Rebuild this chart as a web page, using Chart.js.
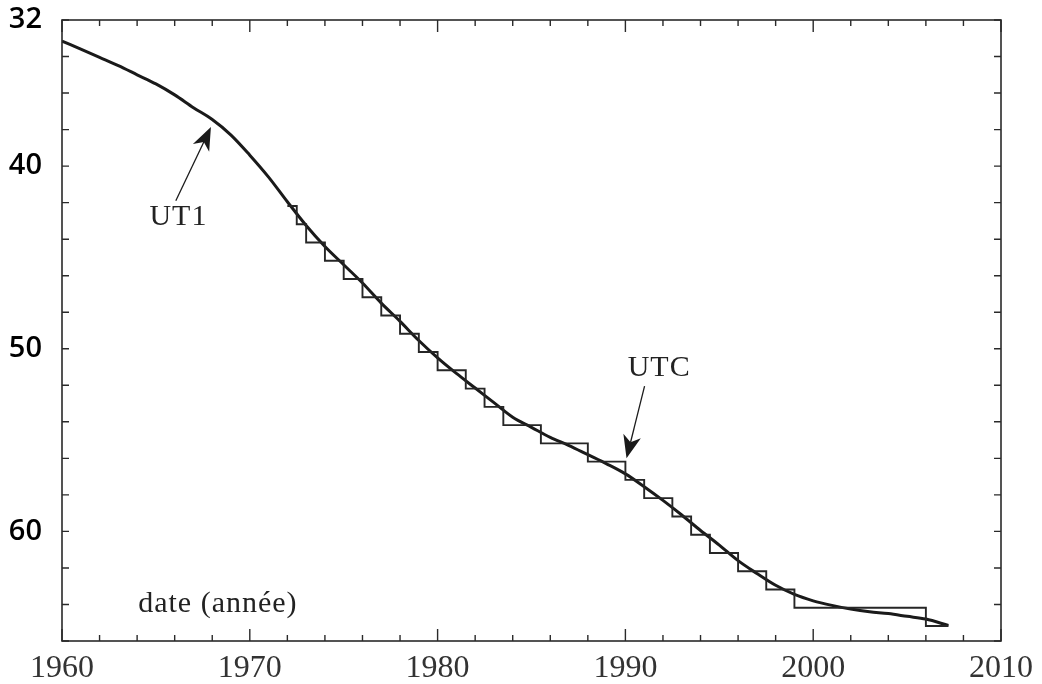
<!DOCTYPE html>
<html>
<head>
<meta charset="utf-8">
<script src="https://cdn.jsdelivr.net/npm/chart.js@4"></script>
<style>
  html, body { margin: 0; padding: 0; background: #ffffff; overflow: hidden; }
  #chart { display: block; }
</style>
</head>
<body>
<canvas id="chart" width="1042" height="684"></canvas>
<script>
// UT1 curve (TT - UT1, seconds)
const ut1Years = [1960, 1961, 1962, 1963, 1964, 1965, 1966, 1967, 1968, 1969, 1970, 1971, 1972, 1973, 1974, 1975, 1976, 1977, 1978, 1979, 1980, 1981, 1982, 1983, 1984, 1985, 1986, 1987, 1988, 1989, 1990, 1991, 1992, 1993, 1994, 1995, 1996, 1997, 1998, 1999, 2000, 2001, 2002, 2003, 2004, 2005, 2006, 2007.2]
const ut1Values = [33.15, 33.6, 34.05, 34.5, 35.0, 35.5, 36.1, 36.8, 37.45, 38.3, 39.4, 40.6, 41.95, 43.25, 44.4, 45.4, 46.4, 47.5, 48.5, 49.55, 50.5, 51.35, 52.15, 52.95, 53.75, 54.3, 54.85, 55.3, 55.8, 56.3, 56.85, 57.55, 58.3, 59.1, 59.95, 60.75, 61.6, 62.3, 62.95, 63.45, 63.8, 64.05, 64.25, 64.4, 64.5, 64.65, 64.8, 65.15]

// UTC staircase: date of each step and level after it
const utcYears = [1972.0, 1972.5, 1973.0, 1974.0, 1975.0, 1976.0, 1977.0, 1978.0, 1979.0, 1980.0, 1981.5, 1982.5, 1983.5, 1985.5, 1988.0, 1990.0, 1991.0, 1992.5, 1993.5, 1994.5, 1996.0, 1997.5, 1999.0, 2006.0, 2007.2]
const utcValues = [42.18, 43.18, 44.18, 45.18, 46.18, 47.18, 48.18, 49.18, 50.18, 51.18, 52.18, 53.18, 54.18, 55.18, 56.18, 57.18, 58.18, 59.18, 60.18, 61.18, 62.18, 63.18, 64.18, 65.18, 65.18]

const yLabelValues = [32, 40, 50, 60]
const xLabelValues = [1960, 1970, 1980, 1990, 2000, 2010]

const noteTexts = ['UT1', 'UTC', 'date (année)']
const noteX = [1966.2, 1991.8, 1968.3]
const noteY = [42.8, 51.05, 64.0]

const arrowTailX = [1966.06, 1991.02]
const arrowTailY = [41.9, 52.05]
const arrowTipX = [1967.93, 1990.06]
const arrowTipY = [37.86, 56.0]

const ink = '#1a1a1a'

const framePlugin = {
  id: 'frame',
  afterDatasetsDraw(chart) {
    const { ctx, chartArea: area, scales } = chart
    const xs = scales.x
    const ys = scales.y
    ctx.save()
    ctx.strokeStyle = '#2a2a2a'
    ctx.lineWidth = 1.6
    ctx.strokeRect(area.left, area.top, area.right - area.left, area.bottom - area.top)

    ctx.lineWidth = 1.4
    ctx.beginPath()
    xs.ticks.forEach((tick) => {
      const px = xs.getPixelForValue(tick.value)
      const len = tick.value % 10 === 0 ? 12 : 6
      ctx.moveTo(px, area.bottom)
      ctx.lineTo(px, area.bottom - len)
      ctx.moveTo(px, area.top)
      ctx.lineTo(px, area.top + len)
    })
    ys.ticks.forEach((tick) => {
      const py = ys.getPixelForValue(tick.value)
      ctx.moveTo(area.left, py)
      ctx.lineTo(area.left + 7, py)
      ctx.moveTo(area.right, py)
      ctx.lineTo(area.right - 7, py)
    })
    ctx.stroke()

    // arrows
    ctx.fillStyle = ink
    ctx.strokeStyle = ink
    ctx.lineWidth = 1.3
    arrowTailX.forEach((tx, i) => {
      const x0 = xs.getPixelForValue(tx)
      const y0 = ys.getPixelForValue(arrowTailY[i])
      const x1 = xs.getPixelForValue(arrowTipX[i])
      const y1 = ys.getPixelForValue(arrowTipY[i])
      const ang = Math.atan2(y1 - y0, x1 - x0)
      const headLen = 23
      const headHalf = 9
      const bx = x1 - Math.cos(ang) * headLen
      const by = y1 - Math.sin(ang) * headLen
      const nx = x1 - Math.cos(ang) * headLen * 0.72
      const ny = y1 - Math.sin(ang) * headLen * 0.72
      ctx.beginPath()
      ctx.moveTo(x0, y0)
      ctx.lineTo(nx, ny)
      ctx.stroke()
      ctx.beginPath()
      ctx.moveTo(x1, y1)
      ctx.lineTo(bx - Math.sin(ang) * headHalf, by + Math.cos(ang) * headHalf)
      ctx.lineTo(nx, ny)
      ctx.lineTo(bx + Math.sin(ang) * headHalf, by - Math.cos(ang) * headHalf)
      ctx.closePath()
      ctx.fill()
    })

    ctx.fillStyle = '#222222'
    ctx.font = '30px "Liberation Serif", serif'
    ctx.textAlign = 'center'
    ctx.textBaseline = 'middle'
    if ('letterSpacing' in ctx) ctx.letterSpacing = '1px'
    noteTexts.forEach((text, i) => {
      ctx.fillText(text, xs.getPixelForValue(noteX[i]), ys.getPixelForValue(noteY[i]))
    })
    ctx.restore()
  },
}

const canvas = document.getElementById('chart')
const chart = new Chart(canvas.getContext('2d'), {
  type: 'line',
  data: {
    datasets: [
      {
        label: 'UTC',
        data: utcYears.map((year, i) => ({ x: year, y: utcValues[i] })),
        borderColor: '#262626',
        borderWidth: 1.9,
        stepped: 'before',
        pointRadius: 0,
        fill: false,
      },
      {
        label: 'UT1',
        data: ut1Years.map((year, i) => ({ x: year, y: ut1Values[i] })),
        borderColor: ink,
        borderWidth: 3,
        cubicInterpolationMode: 'monotone',
        pointRadius: 0,
        fill: false,
      },
    ],
  },
  options: {
    responsive: false,
    devicePixelRatio: 1,
    animation: false,
    layout: {
      padding: { left: 0, right: 41, top: 20, bottom: 0 },
    },
    scales: {
      x: {
        type: 'linear',
        min: 1960,
        max: 2010,
        grid: { display: false },
        border: { display: false },
        afterFit(scale) {
          scale.height = 43
          scale.paddingLeft = 0
          scale.paddingRight = 0
        },
        ticks: {
          stepSize: 2,
          autoSkip: false,
          maxRotation: 0,
          padding: 0,
          color: '#333333',
          font: { family: '"Liberation Serif", serif', size: 32 },
          callback: (value) => (xLabelValues.includes(value) ? String(value) : ''),
        },
      },
      y: {
        type: 'linear',
        min: 32,
        max: 66,
        reverse: true,
        grid: { display: false },
        border: { display: false },
        afterFit(scale) {
          scale.width = 62
          scale.paddingTop = 0
          scale.paddingBottom = 0
        },
        ticks: {
          stepSize: 2,
          autoSkip: false,
          padding: 12,
          color: '#000000',
          font: { family: '"Open Sans", sans-serif', size: 29, weight: '600' },
          callback: (value) => (yLabelValues.includes(value) ? String(value) : ''),
        },
      },
    },
    plugins: {
      legend: { display: false },
      tooltip: { enabled: false },
    },
  },
  plugins: [framePlugin],
})
</script>
</body>
</html>
